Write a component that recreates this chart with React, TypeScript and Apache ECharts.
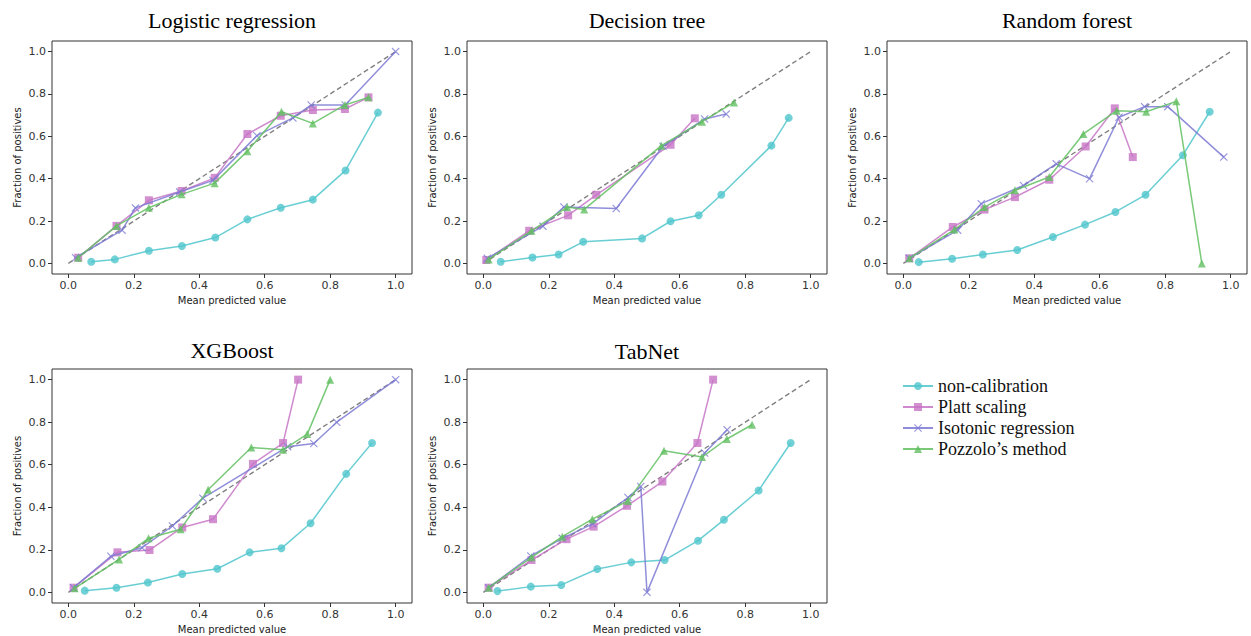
import React, { useEffect, useRef } from "react";
import * as echarts from "echarts";

type Pt = [number, number];

const panelTitles = ["Logistic regression", "Decision tree", "Random forest", "XGBoost", "TabNet"];
const seriesNames = ["non-calibration", "Platt scaling", "Isotonic regression", "Pozzolo\u2019s method"];
const tickValues = [0, 0.2, 0.4, 0.6, 0.8, 1.0];
const diagonal: Pt[] = [[0, 0], [1, 1]];

// Logistic regression
const lrNonCal: Pt[] = [[0.07, 0.008], [0.142, 0.019], [0.246, 0.06], [0.347, 0.082], [0.449, 0.122], [0.547, 0.208], [0.649, 0.263], [0.747, 0.301], [0.847, 0.439], [0.946, 0.712]];
const lrPlatt: Pt[] = [[0.03, 0.027], [0.147, 0.177], [0.246, 0.298], [0.346, 0.342], [0.447, 0.404], [0.547, 0.611], [0.649, 0.697], [0.747, 0.724], [0.845, 0.729], [0.917, 0.784]];
const lrIso: Pt[] = [[0.022, 0.027], [0.164, 0.157], [0.205, 0.262], [0.34, 0.337], [0.442, 0.392], [0.576, 0.603], [0.686, 0.687], [0.742, 0.748], [0.846, 0.748], [1.0, 1.0]];
const lrPozzolo: Pt[] = [[0.03, 0.027], [0.147, 0.177], [0.246, 0.263], [0.346, 0.326], [0.447, 0.379], [0.547, 0.53], [0.651, 0.716], [0.747, 0.661], [0.845, 0.748], [0.917, 0.784]];

// Decision tree
const dtNonCal: Pt[] = [[0.053, 0.008], [0.15, 0.028], [0.23, 0.042], [0.305, 0.102], [0.485, 0.118], [0.572, 0.199], [0.658, 0.227], [0.727, 0.324], [0.88, 0.556], [0.933, 0.687]];
const dtPlatt: Pt[] = [[0.009, 0.016], [0.14, 0.154], [0.259, 0.227], [0.345, 0.324], [0.572, 0.56], [0.646, 0.685]];
const dtIso: Pt[] = [[0.012, 0.024], [0.182, 0.176], [0.246, 0.266], [0.406, 0.259], [0.549, 0.553], [0.676, 0.682], [0.742, 0.705]];
const dtPozzolo: Pt[] = [[0.016, 0.019], [0.147, 0.154], [0.256, 0.266], [0.308, 0.255], [0.544, 0.556], [0.668, 0.669], [0.766, 0.76]];

// Random forest
const rfNonCal: Pt[] = [[0.047, 0.006], [0.149, 0.022], [0.243, 0.042], [0.348, 0.063], [0.457, 0.125], [0.555, 0.183], [0.648, 0.243], [0.74, 0.324], [0.854, 0.511], [0.936, 0.716]];
const rfPlatt: Pt[] = [[0.018, 0.024], [0.151, 0.172], [0.248, 0.254], [0.341, 0.313], [0.446, 0.395], [0.557, 0.552], [0.646, 0.732], [0.701, 0.502]];
const rfIso: Pt[] = [[0.018, 0.024], [0.166, 0.157], [0.238, 0.282], [0.367, 0.368], [0.467, 0.47], [0.569, 0.4], [0.659, 0.69], [0.737, 0.74], [0.808, 0.74], [0.979, 0.502]];
const rfPozzolo: Pt[] = [[0.018, 0.024], [0.156, 0.16], [0.248, 0.266], [0.341, 0.345], [0.446, 0.408], [0.55, 0.611], [0.652, 0.721], [0.742, 0.716], [0.834, 0.765], [0.912, 0.0]];

// XGBoost
const xgNonCal: Pt[] = [[0.05, 0.008], [0.147, 0.022], [0.243, 0.046], [0.348, 0.086], [0.455, 0.111], [0.554, 0.188], [0.651, 0.207], [0.74, 0.325], [0.849, 0.557], [0.928, 0.702]];
const xgPlatt: Pt[] = [[0.016, 0.022], [0.15, 0.188], [0.248, 0.199], [0.348, 0.305], [0.442, 0.344], [0.564, 0.604], [0.656, 0.702], [0.702, 1.0]];
const xgIso: Pt[] = [[0.016, 0.022], [0.13, 0.17], [0.225, 0.21], [0.318, 0.312], [0.411, 0.443], [0.67, 0.685], [0.75, 0.7], [0.82, 0.8], [1.0, 1.0]];
const xgPozzolo: Pt[] = [[0.019, 0.019], [0.155, 0.155], [0.245, 0.254], [0.343, 0.297], [0.427, 0.482], [0.559, 0.681], [0.656, 0.67], [0.73, 0.744], [0.8, 1.0]];

// TabNet
const tnNonCal: Pt[] = [[0.043, 0.006], [0.145, 0.027], [0.238, 0.035], [0.348, 0.11], [0.452, 0.141], [0.554, 0.152], [0.656, 0.243], [0.735, 0.341], [0.841, 0.479], [0.939, 0.702]];
const tnPlatt: Pt[] = [[0.016, 0.022], [0.147, 0.152], [0.254, 0.25], [0.337, 0.309], [0.439, 0.407], [0.547, 0.521], [0.654, 0.702], [0.702, 1.0]];
const tnIso: Pt[] = [[0.016, 0.022], [0.145, 0.171], [0.241, 0.254], [0.334, 0.322], [0.442, 0.446], [0.481, 0.498], [0.5, 0.0], [0.676, 0.655], [0.745, 0.764]];
const tnPozzolo: Pt[] = [[0.016, 0.022], [0.147, 0.165], [0.241, 0.262], [0.333, 0.344], [0.442, 0.43], [0.552, 0.666], [0.668, 0.636], [0.744, 0.721], [0.821, 0.788]];

const panelData: Pt[][][] = [
  [lrNonCal, lrPlatt, lrIso, lrPozzolo],
  [dtNonCal, dtPlatt, dtIso, dtPozzolo],
  [rfNonCal, rfPlatt, rfIso, rfPozzolo],
  [xgNonCal, xgPlatt, xgIso, xgPozzolo],
  [tnNonCal, tnPlatt, tnIso, tnPozzolo],
];

const grids = [
  { left: 52, top: 41, width: 360, height: 233 },
  { left: 467, top: 41, width: 360, height: 233 },
  { left: 887, top: 41, width: 360, height: 233 },
  { left: 52, top: 369, width: 360, height: 234 },
  { left: 467, top: 369, width: 360, height: 234 },
];
const titleY = [20, 20, 20, 350, 351];

const colors = ["#4fc6cc", "#c774c6", "#7d7ad3", "#62bf62"];
const crossPath = "path://M0,1 L1,0 L5,4 L9,0 L10,1 L6,5 L10,9 L9,10 L5,6 L1,10 L0,9 L4,5 Z";
const symbols = ["circle", "rect", crossPath, "triangle"];
const symbolSizes = [8, 8, 8, 8];

const sans = "'DejaVu Sans', sans-serif";
const serif = "'Liberation Serif', 'Times New Roman', serif";

export default function App() {
  const ref = useRef<HTMLDivElement>(null);
  useEffect(() => {
    if (!ref.current) return;
    const chart = echarts.init(ref.current, undefined, { renderer: "svg" });
    const xAxis: any[] = [];
    const yAxis: any[] = [];
    const series: any[] = [];
    const graphic: any[] = [];
    grids.forEach((g, i) => {
      const axisCommon = {
        min: -0.05,
        max: 1.05,
        splitLine: { show: false },
        axisLine: { show: false, onZero: false },
        axisTick: { show: true, customValues: tickValues, length: 4, inside: false, lineStyle: { color: "#333", width: 1 } },
        axisLabel: {
          customValues: tickValues,
          formatter: (v: number) => v.toFixed(1),
          fontSize: 11,
          fontFamily: sans,
          color: "#333",
          margin: 6,
        },
        nameTextStyle: { fontSize: 10, fontFamily: sans, color: "#222" },
        nameLocation: "middle",
      };
      xAxis.push({ ...axisCommon, type: "value", gridIndex: i, position: "bottom", name: "Mean predicted value", nameGap: 21 });
      yAxis.push({ ...axisCommon, type: "value", gridIndex: i, position: "left", name: "Fraction of positives", nameGap: 30 });
      series.push({
        type: "line",
        xAxisIndex: i,
        yAxisIndex: i,
        data: diagonal,
        symbol: "none",
        silent: true,
        lineStyle: { color: "#808080", width: 1.4, type: [5, 3] },
        z: 1,
      });
      panelData[i].forEach((d, k) => {
        series.push({
          name: seriesNames[k],
          type: "line",
          xAxisIndex: i,
          yAxisIndex: i,
          data: d,
          symbol: symbols[k],
          symbolSize: symbolSizes[k],
          showSymbol: true,
          clip: false,
          lineStyle: { color: colors[k], width: 1.5, opacity: 0.85 },
          itemStyle: { color: colors[k], opacity: 0.8 },
          z: 2 + k,
        });
      });
      graphic.push({
        type: "text",
        x: g.left + g.width / 2,
        y: titleY[i],
        style: {
          text: panelTitles[i],
          font: `22px ${serif}`,
          fill: "#000",
          textAlign: "center",
          textVerticalAlign: "middle",
        },
      });
    });
    chart.setOption({
      animation: false,
      backgroundColor: "#fff",
      grid: grids.map((g) => ({ ...g, show: true, borderColor: "#333", borderWidth: 1, backgroundColor: "transparent" })),
      xAxis,
      yAxis,
      series,
      graphic,
      legend: {
        orient: "vertical",
        left: 897,
        top: 372,
        itemWidth: 30,
        itemHeight: 10,
        itemGap: 3,
        data: seriesNames,
        textStyle: { fontFamily: serif, fontSize: 18, color: "#111" },
        selectedMode: false,
      },
    });
    return () => chart.dispose();
  }, []);
  return <div ref={ref} style={{ position: "fixed", left: 0, top: 0, width: 1251, height: 636 }} />;
}
